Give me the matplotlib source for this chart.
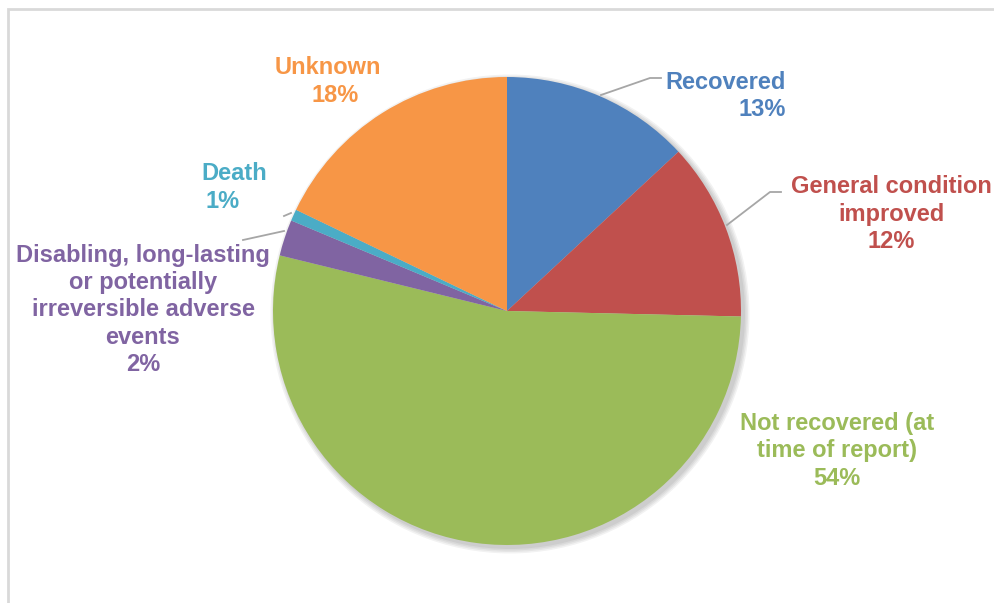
import matplotlib
matplotlib.use("Agg")
import matplotlib.pyplot as plt
from matplotlib.patches import Rectangle, Circle

categories = ["Recovered", "General condition\nimproved", "Not recovered (at\ntime of report)",
              "Disabling, long-lasting\nor potentially\nirreversible adverse\nevents", "Death", "Unknown"]
values = [13.1, 12.3, 53.5, 2.5, 0.8, 17.9]
pct_labels = ["13%", "12%", "54%", "2%", "1%", "18%"]
colors = ["#4F81BD", "#C0504D", "#9BBB59", "#8064A2", "#4BACC6", "#F79646"]

W, H = 994, 603
fig = plt.figure(figsize=(W / 100, H / 100), dpi=100)
ax = fig.add_axes([0, 0, 1, 1])

def Y(y):
    return H - y

cx, cy, r = 507, 311, 234
# soft shadow
for i in range(4):
    ax.add_patch(Circle((cx + 3, Y(cy + 3)), r + 1 + i * 1.5, color="black", alpha=0.05, lw=0, zorder=1))

ax.pie(values, colors=colors, startangle=90, counterclock=False, center=(cx, Y(cy)),
       radius=r, wedgeprops=dict(linewidth=0, zorder=2), frame=True)
ax.set_xlim(0, W)
ax.set_ylim(0, H)
ax.set_aspect("equal")
ax.axis("off")

# chart border
ax.add_patch(Rectangle((8, Y(700)), 1100, 700 - 9, fill=False, edgecolor="#D9D9D9", lw=2, zorder=0))

font = dict(family="Liberation Sans", weight="bold", fontsize=17)
ls = 1.24

def lab(x, y, idx, ha="center"):
    txt = categories[idx] + "\n" + pct_labels[idx]
    ax.text(x, Y(y), txt, ha=ha, va="center", color=colors[idx], multialignment=ha,
            linespacing=ls, zorder=5, **font)

lab(786, 96, 0, ha="right")
lab(891, 214, 1)
lab(837, 451, 2)
lab(143, 310, 3)
ax.text(234, Y(173), "Death", ha="center", va="center", color=colors[4], zorder=5, **font)
ax.text(223, Y(201), pct_labels[4], ha="center", va="center", color=colors[4], zorder=5, **font)
ax.text(328, Y(67), "Unknown", ha="center", va="center", color=colors[5], zorder=5, **font)
ax.text(335, Y(95), pct_labels[5], ha="center", va="center", color=colors[5], zorder=5, **font)

lc = "#A6A6A6"
ax.plot([601, 650, 661], [Y(95), Y(78), Y(78)], color=lc, lw=1.3, zorder=4)
ax.plot([727, 770, 781], [Y(225), Y(192), Y(192)], color=lc, lw=1.3, zorder=4)
ax.plot([284, 243], [Y(231), Y(240)], color=lc, lw=1.3, zorder=4)
ax.plot([291, 284], [Y(213), Y(216)], color=lc, lw=1.3, zorder=4)

fig.savefig("out.png", dpi=100)
